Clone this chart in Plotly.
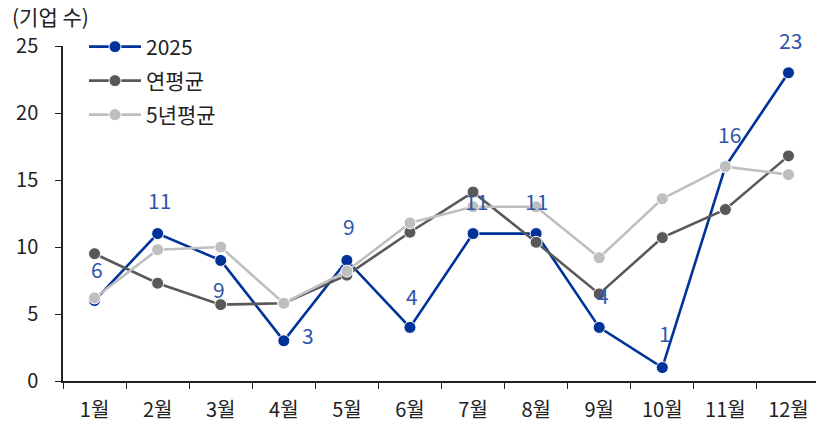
import plotly.graph_objects as go

months = ["1월", "2월", "3월", "4월", "5월", "6월", "7월", "8월", "9월", "10월", "11월", "12월"]
y2025 = [6, 11, 9, 3, 9, 4, 11, 11, 4, 1, 16, 23]
annual_avg = [9.5, 7.3, 5.7, 5.8, 7.9, 11.1, 14.1, 10.35, 6.5, 10.7, 12.8, 16.8]
five_yr_avg = [6.2, 9.8, 10.0, 5.8, 8.2, 11.8, 13.0, 13.0, 9.2, 13.6, 16.0, 15.4]

# label offsets (px) for the 2025 data labels
lab_dx = [2, 2, -2, 24, 2, 2, 3, 0, 4, 3, 4, 2]
lab_dy = [32, 34, -29, 6, 34, 31, 33, 33, 32, 35, 33, 33]

FONT = "Noto Sans CJK KR"
BLUE, DGRAY, LGRAY = "#003399", "#595959", "#BFBFBF"
W, H = 816, 419  # page body has an 8px margin
ML, MR, MT, MB = 55, 4, 38, 46
PW, PH = W - ML - MR, H - MT - MB

fig = go.Figure()
series = [("2025", y2025, BLUE, "legend"), ("연평균", annual_avg, DGRAY, "legend2"),
          ("5년평균", five_yr_avg, LGRAY, "legend3")]
for name, vals, col, lg in series:
    fig.add_trace(go.Scatter(x=months, y=vals, name=name, mode="lines+markers", legend=lg,
                             line=dict(color=col, width=2.6),
                             marker=dict(size=12, color=col, line=dict(color="white", width=1))))

annotations = [dict(text="(기업 수)", x=0, y=1, xref="paper", yref="paper", xanchor="left",
                    yanchor="middle", xshift=-53, yshift=30, showarrow=False,
                    font=dict(family=FONT, size=21, color="#222222"))]
for i, (m, v) in enumerate(zip(months, y2025)):
    annotations.append(dict(text=str(v), x=m, y=v, xref="x", yref="y", showarrow=False,
                            xshift=lab_dx[i], yshift=lab_dy[i], xanchor="center", yanchor="middle",
                            font=dict(family=FONT, size=21, color="#2F55A8")))

row_y = [39, 73, 107]
def leg(yc):
    return dict(x=(76 - ML) / PW, y=1 - (yc - MT) / PH, xanchor="left",
                yanchor="middle", bgcolor="rgba(0,0,0,0)", itemwidth=52,
                font=dict(family=FONT, size=21, color="#222222"))

fig.update_layout(
    width=W, height=H,
    margin=dict(l=ML, r=MR, t=MT, b=MB, autoexpand=False),
    plot_bgcolor="white", paper_bgcolor="white",
    font=dict(family=FONT, size=20, color="#222222"),
    showlegend=True,
    legend=leg(row_y[0]), legend2=leg(row_y[1]), legend3=leg(row_y[2]),
    annotations=annotations,
)
fig.update_xaxes(range=[-0.5, 11.5], showline=True, linecolor="#222222", linewidth=1.5,
                 ticks="outside", tickson="boundaries", ticklen=6, tickcolor="#222222",
                 showgrid=False, tickfont=dict(family=FONT, size=20), zeroline=False,
                 ticklabelstandoff=10, tickangle=0)
fig.update_yaxes(range=[0, 25], dtick=5, showline=True, linecolor="#222222", linewidth=1.5,
                 ticks="outside", ticklen=6, tickcolor="#222222", showgrid=False,
                 tickfont=dict(family=FONT, size=20), zeroline=False, ticklabelstandoff=13)

fig.write_html("out.html")
